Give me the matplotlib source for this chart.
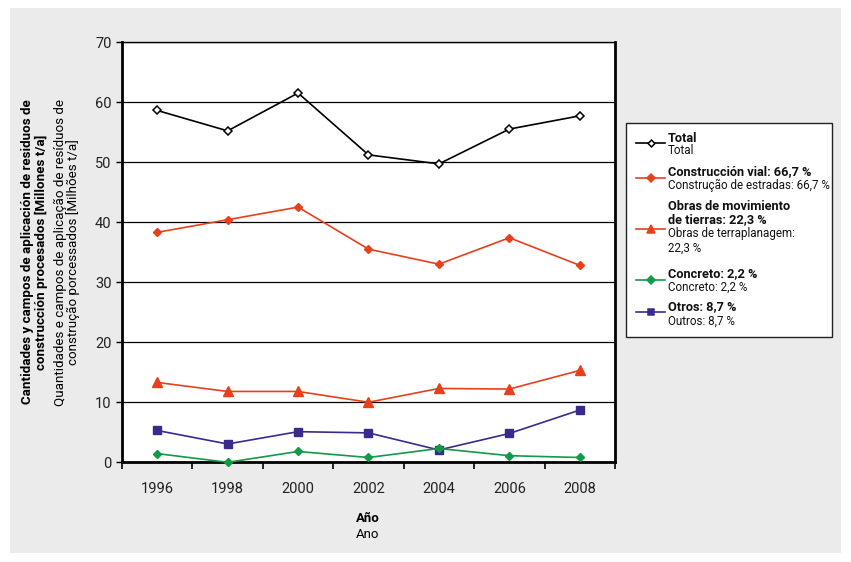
import numpy as np
import matplotlib
matplotlib.use('Agg')
import matplotlib.pyplot as plt
from matplotlib.lines import Line2D
from matplotlib.patches import Rectangle

years = ['1996', '1998', '2000', '2002', '2004', '2006', '2008']
total = [58.6, 55.2, 61.5, 51.2, 49.7, 55.5, 57.7]
construccion_vial = [38.3, 40.4, 42.5, 35.5, 33.0, 37.4, 32.8]
obras_tierras = [13.3, 11.8, 11.8, 10.0, 12.3, 12.2, 15.3]
concreto = [1.45, 0.0, 1.8, 0.8, 2.3, 1.1, 0.8]
otros = [5.3, 3.05, 5.1, 4.9, 2.05, 4.8, 8.7]

c_total = 'black'
c_vial = '#E8401C'
c_obras = '#E8401C'
c_concreto = '#119A47'
c_otros = '#3B2A8E'

plt.rcParams['font.family'] = ['Roboto', 'DejaVu Sans']

fig = plt.figure(figsize=(8.51, 5.62), dpi=100)
fig.patch.set_facecolor('white')
# grey panel behind everything
fig.patches.append(Rectangle((10 / 851, 1 - 553 / 562), 831 / 851, 545 / 562,
                             transform=fig.transFigure, facecolor='#EBEBEB',
                             edgecolor='none', zorder=-10))

ax = fig.add_axes([122 / 851, 1 - 462.3 / 562, 493 / 851, 420.3 / 562])
ax.set_facecolor('white')
x = np.arange(len(years))

ax.plot(x, total, color=c_total, lw=1.2, marker='D', ms=4, mfc='white', mec=c_total, mew=1.1, zorder=5)
ax.plot(x, construccion_vial, color=c_vial, lw=1.2, marker='D', ms=4.5, zorder=5)
ax.plot(x, obras_tierras, color=c_obras, lw=1.2, marker='^', ms=7, zorder=5)
ax.plot(x, otros, color=c_otros, lw=1.2, marker='s', ms=5.5, zorder=5)
ax.plot(x, concreto, color=c_concreto, lw=1.2, marker='D', ms=4.5, zorder=5, clip_on=False)

ax.set_xlim(-0.5, len(years) - 0.5)
ax.set_ylim(0, 70)
ax.set_yticks(range(0, 71, 10))
ax.set_xticks(x)
ax.set_xticklabels(years)
ax.set_xticks(np.arange(-0.5, len(years), 1), minor=True)
ax.tick_params(axis='x', which='major', length=0, pad=14, labelsize=10.5, colors='#222222')
ax.tick_params(axis='x', which='minor', length=5, width=1.2, direction='out')
ax.tick_params(axis='y', length=4, width=1, direction='out', labelsize=10.5, colors='#222222')
ax.tick_params(axis='y', color='black')
ax.grid(axis='y', color='black', lw=0.9)
ax.set_axisbelow(True)

for side in ['left', 'bottom', 'right']:
    ax.spines[side].set_linewidth(2)
ax.spines['top'].set_linewidth(1)

# axis titles
fig.text(368 / 851, 1 - 518 / 562, 'Año', ha='center', va='center', fontsize=9.5, fontweight='bold')
fig.text(368 / 851, 1 - 534 / 562, 'Ano', ha='center', va='center', fontsize=9.5)
ylab = [
    (28, 'Cantidades y campos de aplicación de residuos de', 'bold'),
    (41, 'construcción procesados [Millones t/a]', 'bold'),
    (60, 'Quantidades e campos de aplicação de resíduos de', 'normal'),
    (73, 'construção porcessados [Milhões t/a]', 'normal'),
]
for lx, t, w in ylab:
    fig.text(lx / 851, 1 - 252 / 562, t, rotation=90, ha='center', va='center',
             fontsize=9.6, fontweight=w)

# legend box
fig.patches.append(Rectangle((626 / 851, 1 - 337 / 562), 206 / 851, 214 / 562,
                             transform=fig.transFigure, facecolor='white',
                             edgecolor='#222222', lw=1, zorder=1))

entries = [
    (143, c_total, 'D', 3.5, 'white', [(139, 'Total', 'bold'), (151, 'Total', 'normal')]),
    (178, c_vial, 'D', 4, c_vial, [(172, 'Construcción vial: 66,7 %', 'bold'),
                                   (185, 'Construção de estradas: 66,7 %', 'normal')]),
    (229, c_obras, '^', 6, c_obras, [(207, 'Obras de movimiento', 'bold'),
                                     (220, 'de tierras: 22,3 %', 'bold'),
                                     (234, 'Obras de terraplanagem:', 'normal'),
                                     (248, '22,3 %', 'normal')]),
    (280, c_concreto, 'D', 4, c_concreto, [(274, 'Concreto: 2,2 %', 'bold'),
                                           (287, 'Concreto: 2,2 %', 'normal')]),
    (312, c_otros, 's', 5, c_otros, [(307, 'Otros: 8,7 %', 'bold'),
                                     (321, 'Outros: 8,7 %', 'normal')]),
]
for ly, col, mk, ms, mfc, texts in entries:
    fig.add_artist(Line2D([636 / 851, 665 / 851], [1 - ly / 562] * 2, transform=fig.transFigure,
                          color=col, lw=1.2, zorder=3))
    fig.add_artist(Line2D([650.5 / 851], [1 - ly / 562], transform=fig.transFigure, color=col,
                          marker=mk, ms=ms, mfc=mfc, mec=col, mew=1.1, zorder=4))
    for ty, t, w in texts:
        fs = 9.2 if w == 'bold' else 8.4
        fig.text(668 / 851, 1 - ty / 562, t, ha='left', va='center', fontsize=fs,
                 fontweight=w, color='#111111', zorder=4)

plt.savefig('out.png', dpi=100, facecolor=fig.get_facecolor())
